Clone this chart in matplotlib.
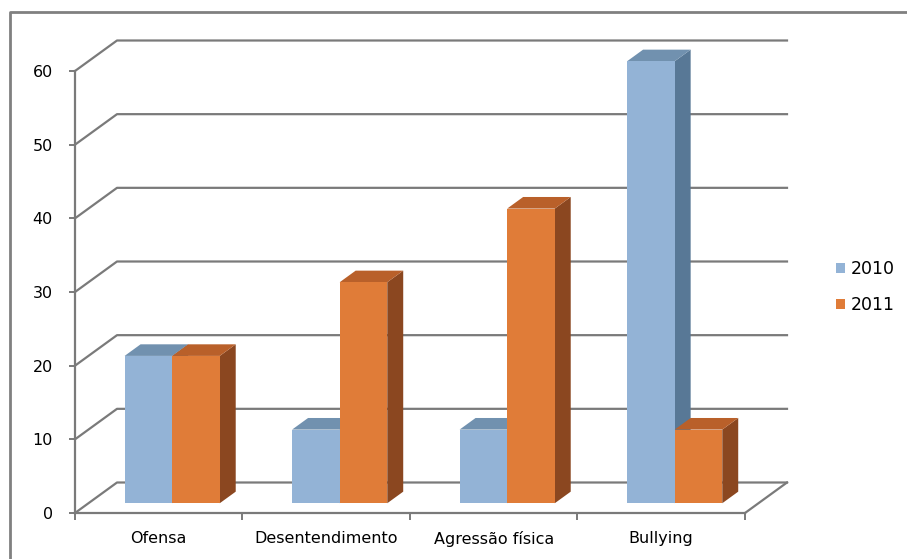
import matplotlib as mpl
mpl.use('Agg')
import matplotlib.pyplot as plt
from matplotlib.patches import Rectangle, Polygon, Patch
from matplotlib.lines import Line2D

categories = ['Ofensa', 'Desentendimento', 'Agressão física', 'Bullying']
series_names = ['2010', '2011']
values_2010 = [20, 10, 10, 60]
values_2011 = [20, 30, 40, 10]
y_ticks = [0, 10, 20, 30, 40, 50, 60]

# face colours per series: front, top, side
colors = {
  '2010': ('#93b3d6', '#7191af', '#587896'),
  '2011': ('#e07c38', '#b9602a', '#8b4720'),
}
GRID = '#7a7a7a'

W, H = 907, 559
# front plane in pixels: x axis 75..745, y 0 at 513, 60 at 71
SX = 670 / 4.0
SY = 442 / 60.0
DX = 42 / SX      # depth offset of back wall, data units
DY = 30.5 / SY
BAR_W = 0.284
D0, BD = 0.32, 0.38   # bar depth start / thickness (fraction of floor depth)

plt.rcParams['font.family'] = ['DejaVu Sans']
fig = plt.figure(figsize=(W / 100, H / 100), dpi=100)
ax = fig.add_axes([75 / W, 46 / H, (670 + 42) / W, (442 + 30.5) / H])
ax.set_xlim(0, 4 + DX)
ax.set_ylim(0, 60 + DY)
ax.patch.set_visible(False)

# side wall, back wall gridlines and floor
for v in y_ticks:
  ax.plot([0, DX, 4 + DX], [v, v + DY, v + DY], color=GRID, lw=1.6,
          clip_on=False, zorder=1)
ax.plot([4, 4 + DX], [0, DY], color=GRID, lw=1.6, clip_on=False, zorder=1)


def draw_bar(x, h, cols):
  front, top, side = cols
  x0 = x + D0 * DX
  y0 = D0 * DY
  dx, dy = BD * DX, BD * DY
  ax.add_patch(Polygon([(x0 + BAR_W, y0), (x0 + BAR_W + dx, y0 + dy),
                        (x0 + BAR_W + dx, y0 + dy + h), (x0 + BAR_W, y0 + h)],
                       closed=True, facecolor=side, edgecolor='none', zorder=3))
  ax.add_patch(Polygon([(x0, y0 + h), (x0 + dx, y0 + h + dy),
                        (x0 + BAR_W + dx, y0 + h + dy), (x0 + BAR_W, y0 + h)],
                       closed=True, facecolor=top, edgecolor='none', zorder=3))
  ax.add_patch(Rectangle((x0, y0), BAR_W, h, facecolor=front,
                         edgecolor='none', zorder=3))


for i in range(len(categories)):
  left = i + 0.5 - BAR_W
  for s, vals in enumerate([values_2010, values_2011]):
    draw_bar(left + s * BAR_W, vals[i], colors[series_names[s]])

for side in ['top', 'right']:
  ax.spines[side].set_visible(False)
for side in ['left', 'bottom']:
  ax.spines[side].set_color(GRID)
  ax.spines[side].set_linewidth(1.6)
  ax.spines[side].set_zorder(4)
ax.spines['left'].set_bounds(0, 60)
ax.spines['bottom'].set_bounds(0, 4)

ax.set_yticks(y_ticks)
ax.tick_params(axis='y', direction='out', length=4, width=1.4, color=GRID,
               pad=12, labelsize=11.5)
ax.set_xticks(range(5))
ax.set_xticklabels([])
ax.set_xticks([i + 0.5 for i in range(4)], minor=True)
ax.set_xticklabels(categories, minor=True)
ax.tick_params(axis='x', which='major', direction='out', length=5, width=1.4,
               color=GRID)
ax.tick_params(axis='x', which='minor', length=0, pad=13, labelsize=11.5)

handles = [Patch(facecolor=colors[n][0], edgecolor='none', label=n)
           for n in series_names]
fig.legend(handles=handles, loc='center left',
           bbox_to_anchor=(820 / W, 1 - 287 / H), frameon=False,
           handlelength=0.55, handleheight=0.55, handletextpad=0.3,
           labelspacing=1.05, fontsize=12.5)

# outer chart border (left and top edges)
fig.add_artist(Line2D([10 / W, 10 / W, 1], [0, 1 - 12 / H, 1 - 12 / H],
                      transform=fig.transFigure, color='#808080', lw=2))

fig.savefig('out.png', dpi=100)
